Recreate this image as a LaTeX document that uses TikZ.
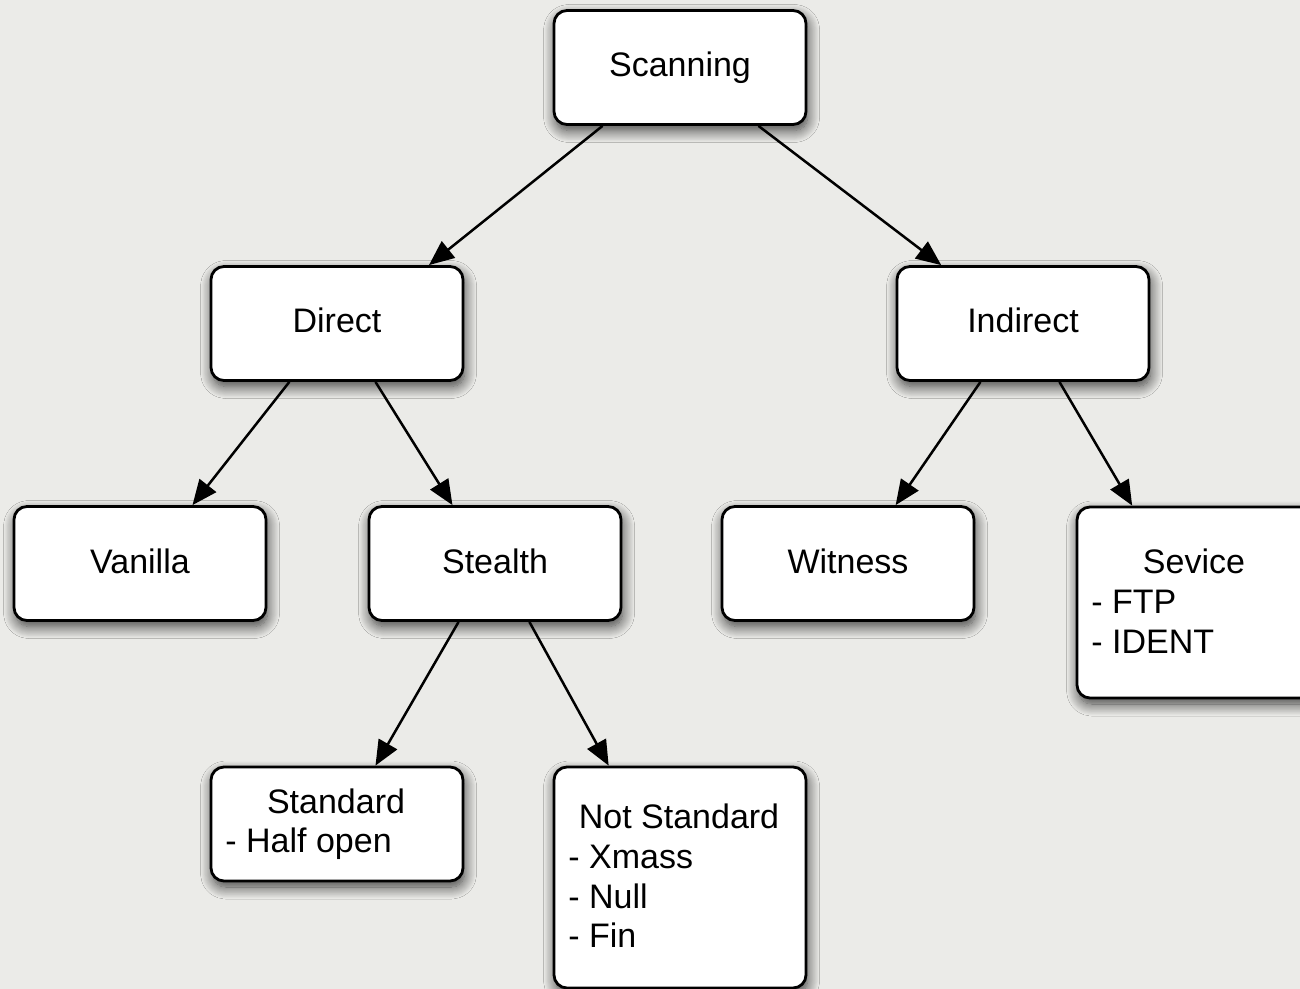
\documentclass[tikz,border=0pt]{standalone}
\usepackage{fontspec}
\setmainfont{Liberation Sans}
\usetikzlibrary{arrows.meta,calc,shadows.blur}
\definecolor{canvas}{RGB}{235,235,232}
\begin{document}
\begin{tikzpicture}[x=0.5pt,y=-0.5pt,
  box/.style={draw=black, line width=1.4pt, fill=white, rounded corners=6.5pt,
    minimum width=126pt, minimum height=57pt, inner sep=0pt,
    blur shadow={shadow xshift=0.8pt, shadow yshift=-3pt, shadow blur radius=6pt,
      shadow blur steps=14, shadow opacity=75},
    font=\fontsize{17}{20}\selectfont, text height=12.5pt, text depth=3pt},
  lbl/.style={font=\fontsize{17}{20}\selectfont, inner sep=0pt},
  link/.style={line width=1.25pt, -{Triangle[length=12.5pt,width=10.5pt]}},
]
% canvas
\fill[canvas] (0,0) rectangle (1300,989);
\useasboundingbox (0,0) rectangle (1300,989);
\clip (0,0) rectangle (1300,989);

% boxes
\node[box] (scan)    at (680,67.5)   {Scanning};
\node[box] (direct)  at (337,323.5)  {Direct};
\node[box] (indirect)at (1023,323.5) {Indirect};
\node[box] (vanilla) at (140,563.5)  {Vanilla};
\node[box] (stealth) at (495,563.5)  {Stealth};
\node[box] (witness) at (848,563.5)  {Witness};
\node[box, minimum height=95.5pt] (sevice)  at (1203,602.5) {};
\node[box] (standard)at (337,824)    {};
\node[box, minimum height=110.5pt] (notstd) at (680,877.5) {};

% box contents
\node[lbl, anchor=base]      (sevT) at (1194,573) {Sevice};
\node[lbl, anchor=base west] (sevA) at (1091,613) {- FTP};
\node[lbl, anchor=base west] (sevB) at (1091,653) {- IDENT};

\node[lbl, anchor=base]      (stdT) at (336,813) {Standard};
\node[lbl, anchor=base west] (stdA) at (225,852) {- Half open};

\node[lbl, anchor=base]      (nsT) at (679,828) {Not Standard};
\node[lbl, anchor=base west] (nsA) at (568,868) {- Xmass};
\node[lbl, anchor=base west] (nsB) at (568,908) {- Null};
\node[lbl, anchor=base west] (nsC) at (568,947) {- Fin};

% connectors
\draw[link] ($(scan.south west)!0.196!(scan.south east)$) -- ($(direct.north west)!0.861!(direct.north east)$);
\draw[link] ($(scan.south west)!0.808!(scan.south east)$) -- ($(indirect.north west)!0.179!(indirect.north east)$);
\draw[link] ($(direct.south west)!0.313!(direct.south east)$) -- ($(vanilla.north west)!0.706!(vanilla.north east)$);
\draw[link] ($(direct.south west)!0.651!(direct.south east)$) -- ($(stealth.north west)!0.333!(stealth.north east)$);
\draw[link] ($(indirect.south west)!0.333!(indirect.south east)$) -- ($(witness.north west)!0.687!(witness.north east)$);
\draw[link] ($(indirect.south west)!0.643!(indirect.south east)$) -- ($(sevice.north west)!0.222!(sevice.north east)$);
\draw[link] ($(stealth.south west)!0.357!(stealth.south east)$) -- ($(standard.north west)!0.651!(standard.north east)$);
\draw[link] ($(stealth.south west)!0.635!(stealth.south east)$) -- ($(notstd.north west)!0.220!(notstd.north east)$);
\end{tikzpicture}
\end{document}
